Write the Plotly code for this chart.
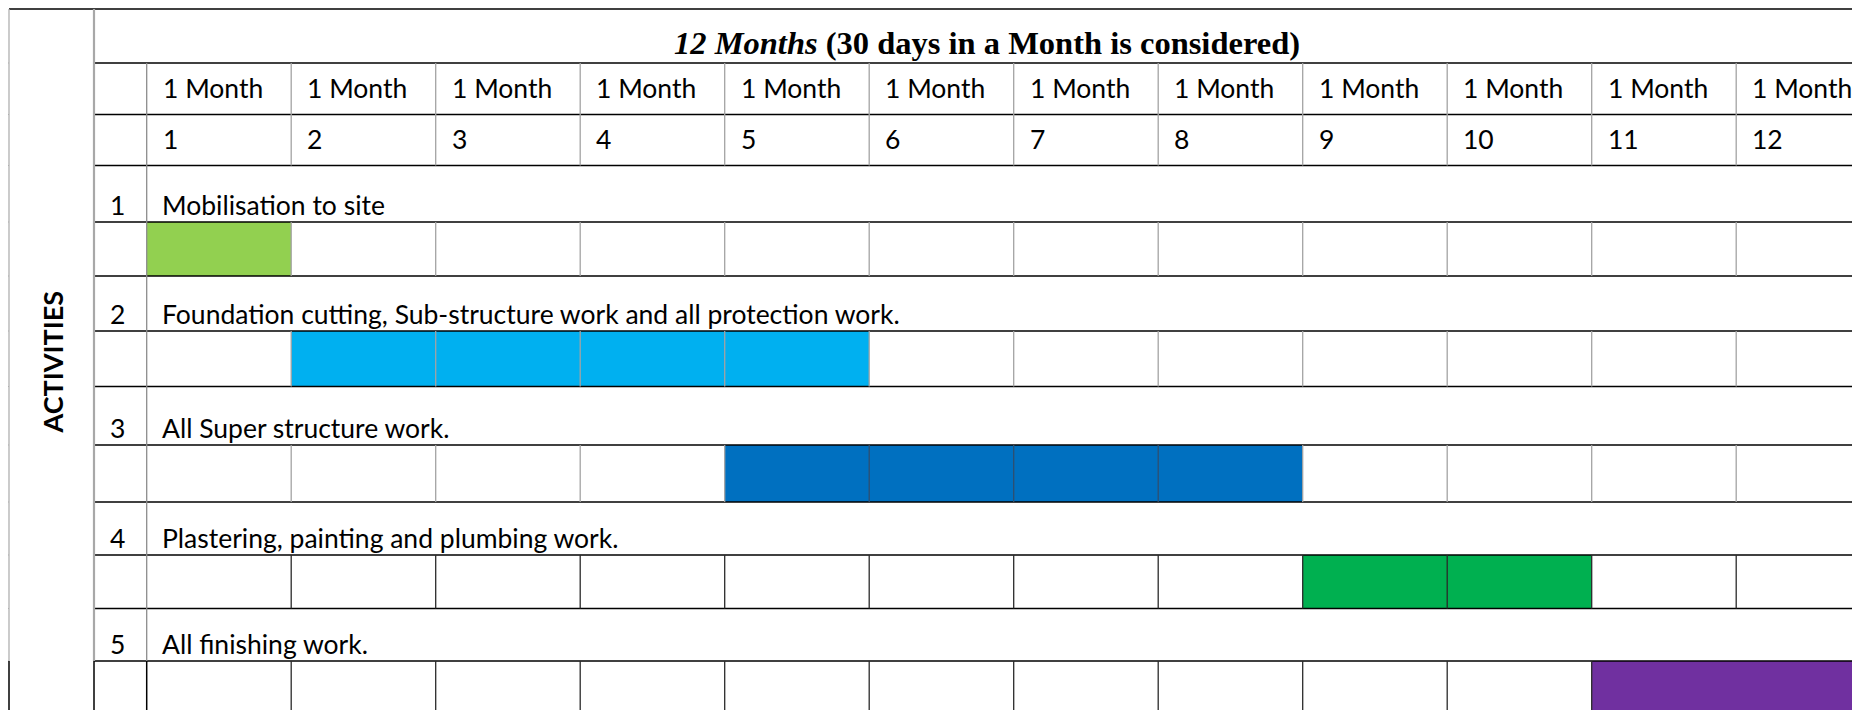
import plotly.graph_objects as go

# ---------------- data ----------------
month_headers = ["1 Month"] * 12
month_numbers = ["1", "2", "3", "4", "5", "6", "7", "8", "9", "10", "11", "12"]
activity_ids = ["1", "2", "3", "4", "5"]
activities = [
    "Mobilisation to site",
    "Foundation cutting, Sub-structure work and all protection work.",
    "All Super structure work.",
    "Plastering, painting and plumbing work.",
    "All finishing work.",
]
start_month = [1, 2, 5, 9, 11]
end_month = [1, 5, 8, 10, 12]
bar_colors = ["#92D050", "#00B0F0", "#0070C0", "#00B050", "#7030A0"]
title_italic = "12 Months"
title_rest = "(30 days in a Month is considered)"
side_label = "ACTIVITIES"

# ---------------- layout constants (pixels) ----------------
W, H = 1860, 710
OFF = 8           # page body margin of the browser
COL0 = 146.7      # left edge of month 1 column
COLW = 144.5      # width of a month column
X_EDGE = 9        # outer left border
X_NUM = 94        # left edge of the number column
ROW_Y = [9, 63, 114.5, 165.5, 222, 276, 331, 386.5, 445, 502, 555, 608.5, 661, 730]
MERGED_BAR_ROW = [False, False, False, False, True]

BODY_FONT = "Lato"
BODY_SIZE = 26.5
BLACK = "#000000"
GRAY = "#a3a3a3"


def px2x(p):
    return (p - COL0) / COLW


fig = go.Figure()

# bars (one per activity), in month units on x, pixel rows on y
for k in range(len(activities)):
    top, bot = ROW_Y[4 + 2 * k], ROW_Y[5 + 2 * k]
    fig.add_trace(go.Bar(
        orientation="h",
        y=[(top + bot) / 2],
        x=[end_month[k] - start_month[k] + 1],
        base=[start_month[k] - 1],
        width=[bot - top],
        marker=dict(color=bar_colors[k], line=dict(width=0)),
        showlegend=False,
        hoverinfo="skip",
    ))

shapes = []


def hline(y, x0p, x1p, color=BLACK, w=1.6):
    shapes.append(dict(type="line", xref="x", yref="y", x0=px2x(x0p), x1=px2x(x1p),
                       y0=y, y1=y, line=dict(color=color, width=w), layer="above"))


def vline(xp, y0, y1, color=GRAY, w=1.3):
    shapes.append(dict(type="line", xref="x", yref="y", x0=px2x(xp), x1=px2x(xp),
                       y0=y0, y1=y1, line=dict(color=color, width=w), layer="above"))


n_months = len(month_headers)
right_px = COL0 + COLW * n_months + 40

# horizontal rules
hline(ROW_Y[0], X_EDGE, right_px)
for y in ROW_Y[1:-1]:
    hline(y, X_NUM, right_px)
    hline(y, 0, X_EDGE, color="#b0b0b0", w=1)

# outer left lines
vline(X_EDGE, ROW_Y[0], ROW_Y[-2], color="#b0b0b0", w=1.3)
vline(X_EDGE, ROW_Y[-2], H + 10, color=BLACK, w=1.5)
vline(X_NUM, ROW_Y[0], ROW_Y[-2], color="#a8a8a8", w=2.2)
vline(X_NUM, ROW_Y[-2], H + 10, color=BLACK, w=1.5)
vline(COL0, ROW_Y[1], ROW_Y[-2], color="#8c8c8c", w=1.3)
vline(COL0, ROW_Y[-2], H + 10, color=BLACK, w=1.5)

# month column separators in header rows and bar rows
for i in range(1, n_months + 1):
    xp = COL0 + COLW * i
    vline(xp, ROW_Y[1], ROW_Y[3], color=GRAY, w=1.3)
    for k in range(len(activities)):
        if MERGED_BAR_ROW[k] and start_month[k] <= i < end_month[k]:
            continue
        c = GRAY if k < 3 else "#2a2a2a"
        if k == 2 and start_month[k] <= i < end_month[k]:
            c = "#2f4f6f"
        vline(xp, ROW_Y[4 + 2 * k], ROW_Y[5 + 2 * k], color=c, w=1.3)

annotations = []

# title
annotations.append(dict(
    x=px2x((X_NUM + COL0 + COLW * n_months) / 2), y=42.5, xref="x", yref="y",
    text=f"<b><i>{title_italic}</i> {title_rest}</b>",
    showarrow=False, xanchor="center", yanchor="middle",
    font=dict(family="Liberation Serif", size=32.5, color="#000000"),
))

# month headers and numbers
for i in range(n_months):
    annotations.append(dict(
        x=i, y=(ROW_Y[1] + ROW_Y[2]) / 2 - 1, xref="x", yref="y", xshift=14,
        text=month_headers[i], showarrow=False, xanchor="left", yanchor="middle",
        font=dict(family=BODY_FONT, size=BODY_SIZE, color="#000000"),
    ))
    annotations.append(dict(
        x=i, y=(ROW_Y[2] + ROW_Y[3]) / 2 - 1, xref="x", yref="y", xshift=14,
        text=month_numbers[i], showarrow=False, xanchor="left", yanchor="middle",
        font=dict(family=BODY_FONT, size=BODY_SIZE, color="#000000"),
    ))

# activity rows
for k in range(len(activities)):
    ybase = ROW_Y[4 + 2 * k] - 17
    annotations.append(dict(
        x=px2x(X_NUM), y=ybase, xref="x", yref="y", xshift=14,
        text=activity_ids[k], showarrow=False, xanchor="left", yanchor="middle",
        font=dict(family=BODY_FONT, size=BODY_SIZE, color="#000000"),
    ))
    annotations.append(dict(
        x=0, y=ybase, xref="x", yref="y", xshift=13,
        text=activities[k], showarrow=False, xanchor="left", yanchor="middle",
        font=dict(family=BODY_FONT, size=BODY_SIZE, color="#000000"),
    ))

# side label
annotations.append(dict(
    x=px2x((X_EDGE + X_NUM) / 2), y=362, xref="x", yref="y",
    text=f"<b>{side_label}</b>", textangle=-90, showarrow=False,
    xanchor="center", yanchor="middle",
    font=dict(family=BODY_FONT, size=27, color="#000000"),
))

fig.update_layout(
    width=W - OFF, height=H - OFF,
    margin=dict(l=0, r=0, t=0, b=0),
    paper_bgcolor="white", plot_bgcolor="white",
    barmode="overlay",
    shapes=shapes, annotations=annotations,
    xaxis=dict(range=[px2x(OFF), px2x(W)], visible=False, fixedrange=True),
    yaxis=dict(range=[H, OFF], visible=False, fixedrange=True),
    showlegend=False,
)

fig.write_html("out.html", config={"displayModeBar": False})
